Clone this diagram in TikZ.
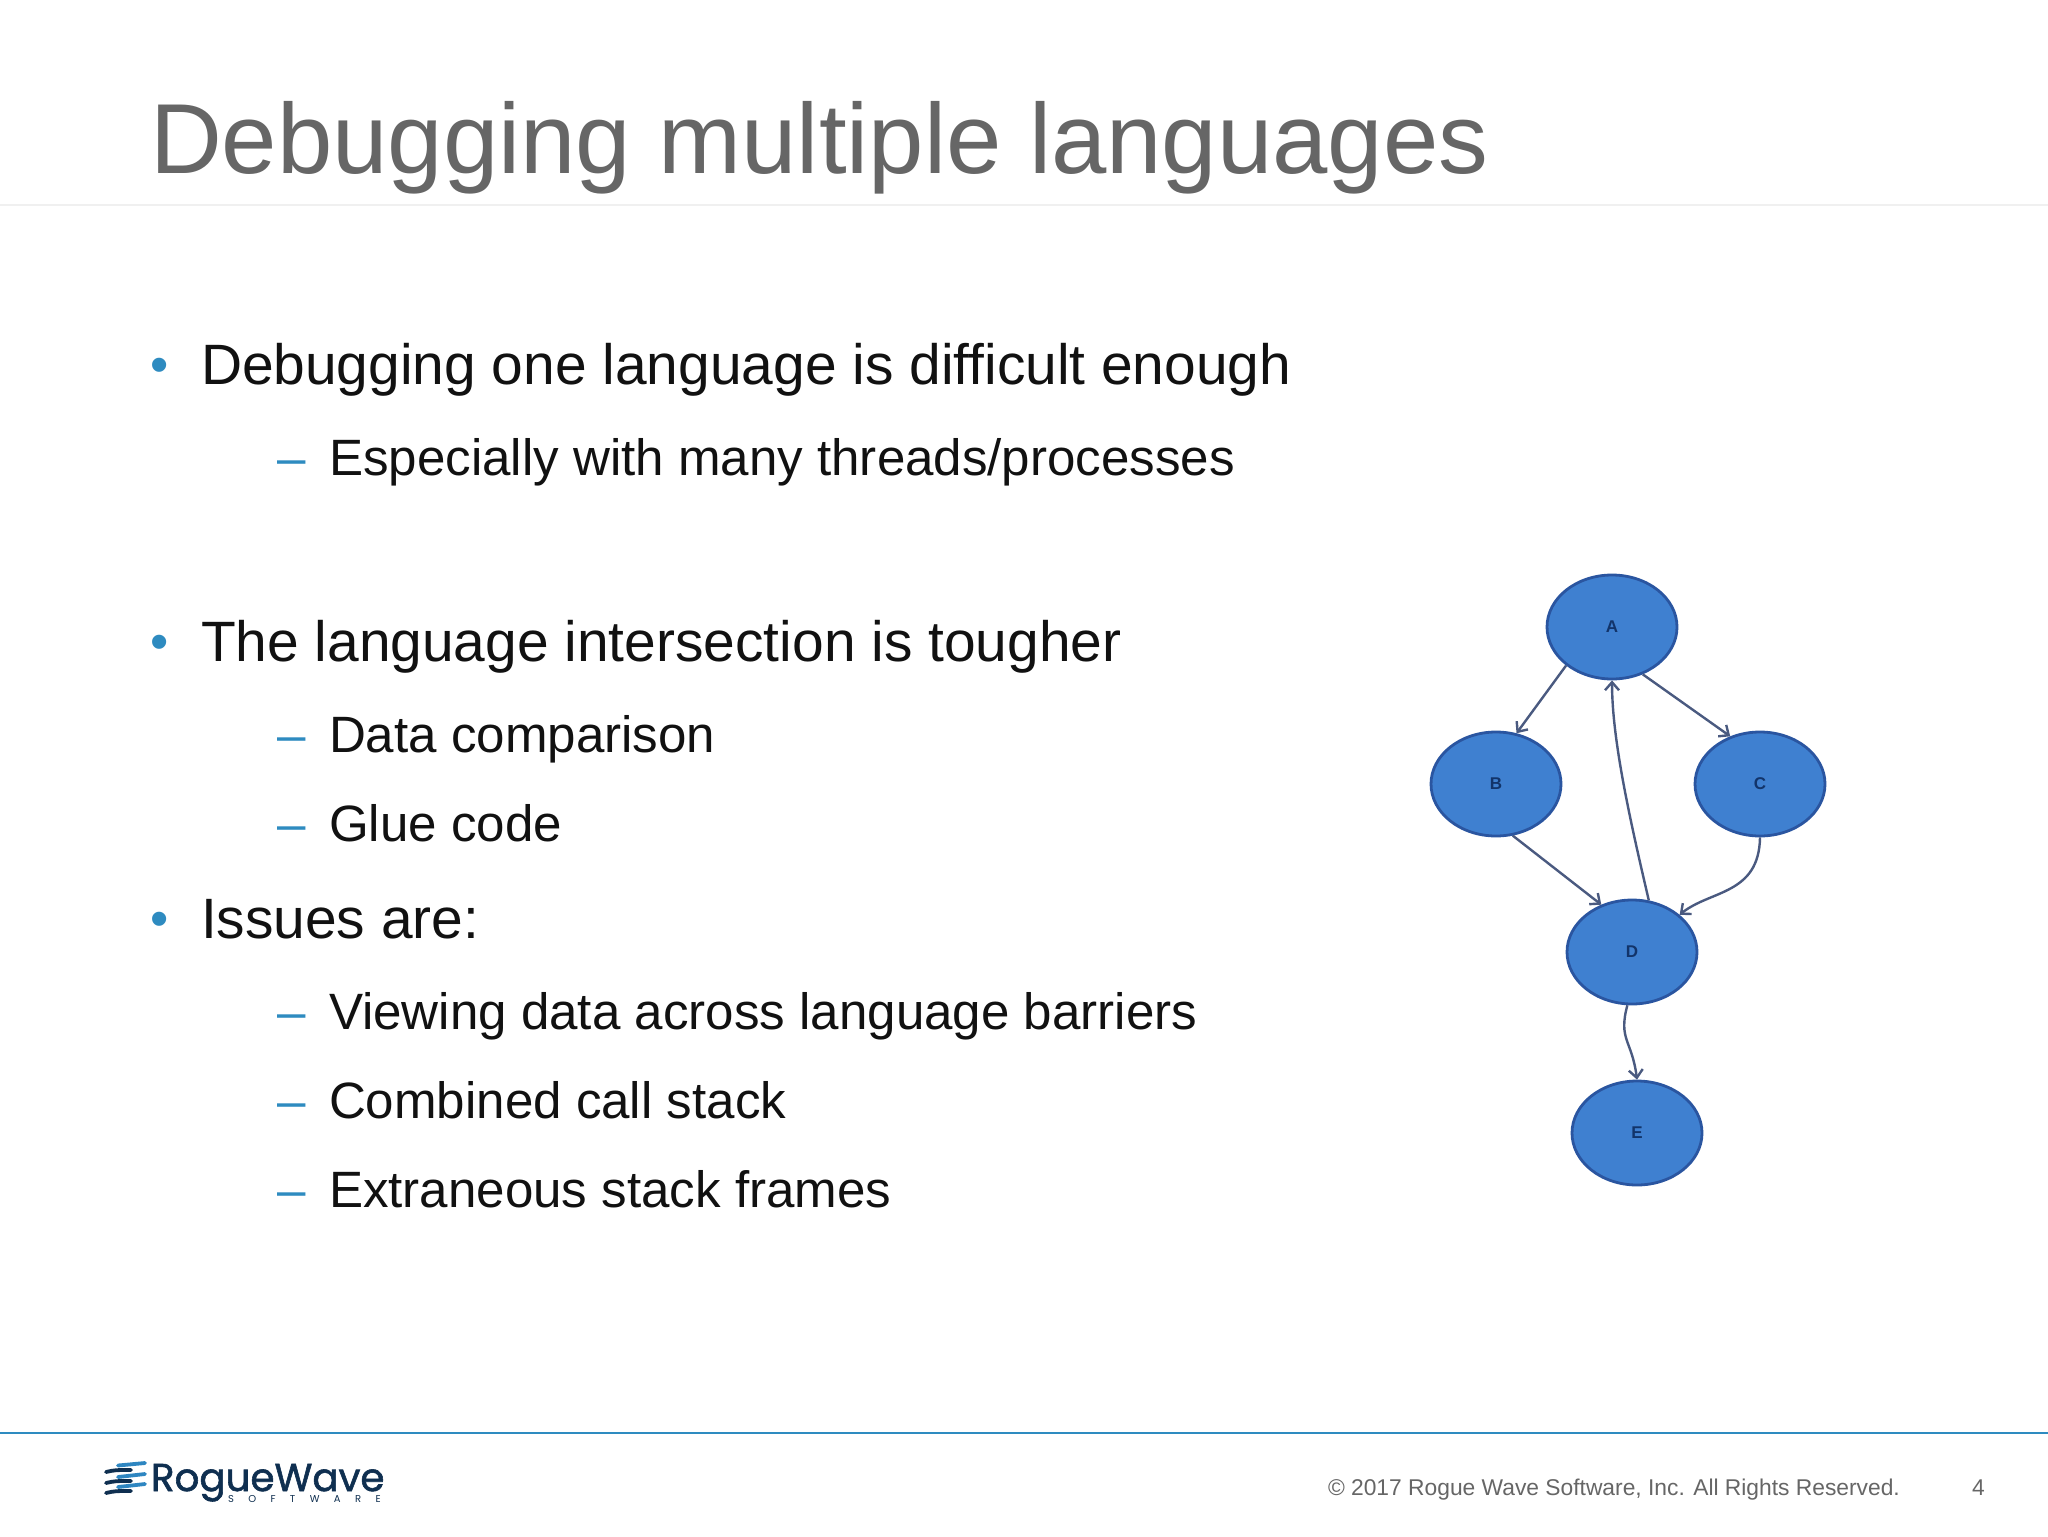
\documentclass[tikz,border=0pt]{standalone}
\usepackage{fontspec}
\setmainfont{Liberation Sans}
\newfontfamily\logofont{Poppins}
\usetikzlibrary{shapes.geometric,arrows.meta}
\definecolor{titlegrey}{HTML}{666666}
\definecolor{bodyblack}{HTML}{111111}
\definecolor{accent}{HTML}{2E8BC0}
\definecolor{nodefill}{HTML}{3F80D0}
\definecolor{nodeline}{HTML}{2A55A0}
\definecolor{edgecol}{HTML}{4A5A80}
\definecolor{labelcol}{HTML}{12346A}
\definecolor{footgrey}{HTML}{666666}
\definecolor{logonavy}{HTML}{0F2F50}
\definecolor{logoblue}{HTML}{2E86C1}
\tikzset{
  txt/.style={anchor=base west,inner sep=0pt,outer sep=0pt},
  slidetitle/.style={txt,text=titlegrey,font=\fontsize{49.75pt}{50pt}\selectfont},
  lone/.style={txt,text=bodyblack,font=\fontsize{28.45pt}{30pt}\selectfont},
  ltwo/.style={txt,text=bodyblack,font=\fontsize{25.55pt}{27pt}\selectfont},
  bulletmark/.style={txt,text=accent,font=\fontsize{26pt}{30pt}\selectfont},
  dashmark/.style={txt,text=accent,font=\fontsize{25.55pt}{27pt}\selectfont},
  graphnode/.style={ellipse,draw=nodeline,line width=1.4pt,fill=nodefill,minimum width=65pt,minimum height=52pt,inner sep=0pt,text=labelcol,font=\fontsize{8.5pt}{9pt}\selectfont\bfseries},
  edge/.style={draw=edgecol,line width=1.2pt,-{Straight Barb[length=4pt,width=7pt]}},
  foot/.style={txt,text=footgrey,font=\fontsize{11.4pt}{13pt}\selectfont},
  logobar/.style={line width=1.9pt,line cap=round}
}
\begin{document}
\begin{tikzpicture}[x=0.5pt,y=-0.5pt]
\useasboundingbox (0,0) rectangle (2048,1536);
\fill[white] (0,0) rectangle (2048,1536);
% title
\node[slidetitle] (title) at (150,173.5) {Debugging multiple languages};
\coordinate (rt1) at (0,205); \coordinate (rt2) at (2048,205);
\draw[color=black!6,line width=0.8pt] (rt1) -- (rt2);
% body
\node[bulletmark] (b1) at (150,382) {•};
\node[lone] (t1) at (201,384.5) {Debugging one language is difficult enough};
\node[dashmark] (d1) at (277,475.5) {–};
\node[ltwo] (t2) at (329,475.5) {Especially with many threads/processes};
\node[bulletmark] (b2) at (150,659) {•};
\node[lone] (t3) at (201,661.5) {The language intersection is tougher};
\node[dashmark] (d2) at (277,752.5) {–};
\node[ltwo] (t4) at (329,752.5) {Data comparison};
\node[dashmark] (d3) at (277,841.5) {–};
\node[ltwo] (t5) at (329,841.5) {Glue code};
\node[bulletmark] (b3) at (150,936) {•};
\node[lone] (t6) at (201,938.5) {Issues are:};
\node[dashmark] (d4) at (277,1029.5) {–};
\node[ltwo] (t7) at (329,1029.5) {Viewing data across language barriers};
\node[dashmark] (d5) at (277,1118.5) {–};
\node[ltwo] (t8) at (329,1118.5) {Combined call stack};
\node[dashmark] (d6) at (277,1207.5) {–};
\node[ltwo] (t9) at (329,1207.5) {Extraneous stack frames};
% graph
\node[graphnode] (A) at (1612,627) {A};
\node[graphnode] (B) at (1496,784) {B};
\node[graphnode] (C) at (1760,784) {C};
\node[graphnode] (D) at (1632,952) {D};
\node[graphnode] (E) at (1637,1133) {E};
\draw[edge] (A.220) -- (B.68);
\draw[edge] (A.-57) -- (C.122);
\draw[edge] (B.-72) -- (D.123);
\draw[edge] (D.72) .. controls (1630,820) and (1612,740) .. (A.south);
\draw[edge] (C.south) .. controls (1759,895) and (1710,890) .. (D.38);
\draw[edge] (D.-95) .. controls (1618,1040) and (1632,1040) .. (E.north);
% footer
\coordinate (ft1) at (0,1433); \coordinate (ft2) at (2048,1433);
\draw[accent,line width=1pt] (ft1) -- (ft2);
\node[foot] (copy) at (1328,1495.5) {© 2017 Rogue Wave Software, Inc. All Rights Reserved.};
\node[foot] (page) at (1972,1495.5) {4};
% logo
\draw[logobar,logoblue] (118,1465.5) -- (145,1463);
\draw[logobar,logonavy] (106,1472) .. controls (115,1470) .. (131,1470);
\draw[logobar,logoblue] (118,1477) -- (145,1474);
\draw[logobar,logonavy] (106,1483) .. controls (115,1481) .. (131,1481);
\draw[logobar,logoblue] (118,1487) -- (145,1484);
\draw[logobar,logonavy] (106,1493) .. controls (115,1491) .. (131,1491);
\node[txt,text=logonavy,font=\logofont\fontsize{19.4pt}{22pt}\selectfont\addfontfeature{FakeBold=1.5}] (logo) at (151,1491) {RogueWave};
\node[txt,text=logonavy,font=\logofont\fontsize{5pt}{6pt}\selectfont] (soft) at (228,1502) {S\hspace{7.2pt}O\hspace{7.2pt}F\hspace{7.2pt}T\hspace{7.2pt}W\hspace{7.2pt}A\hspace{7.2pt}R\hspace{7.2pt}E};
\end{tikzpicture}
\end{document}
